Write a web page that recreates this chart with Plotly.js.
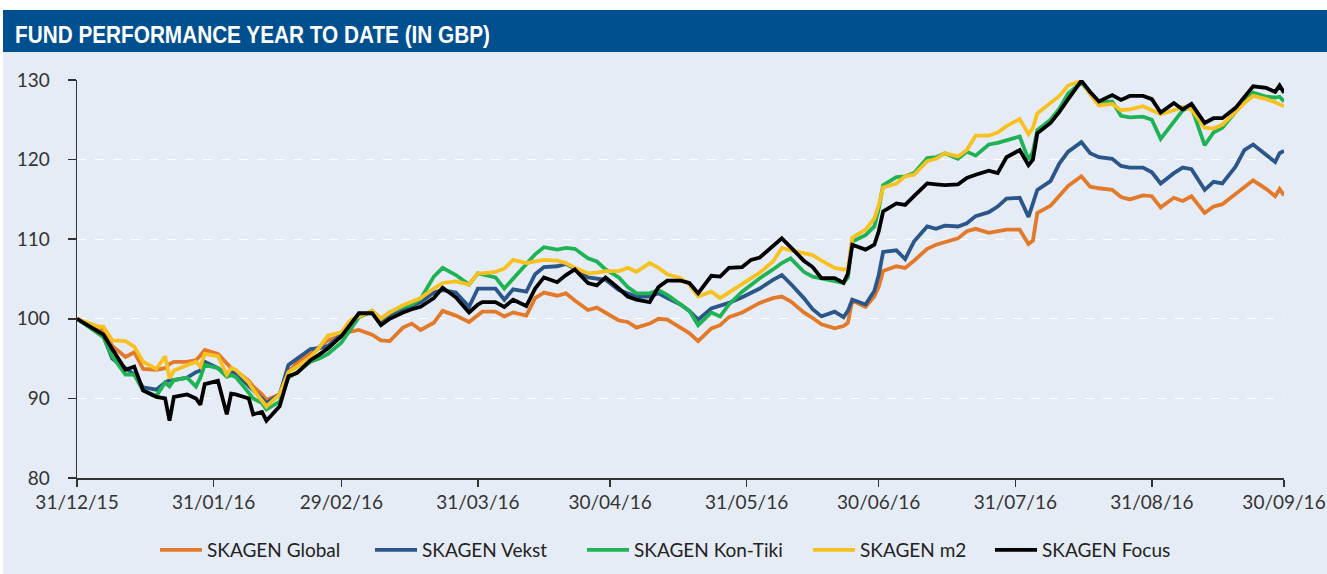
<!DOCTYPE html>
<html>
<head>
<meta charset="utf-8">
<script src="https://cdn.plot.ly/plotly-3.0.1.min.js"></script>
<style>
  html, body { margin: 0; padding: 0; background: #ffffff; width: 1327px; height: 574px; overflow: hidden; }
  #chart { position: absolute; left: 3px; top: 10px; width: 1324px; height: 564px; }
</style>
</head>
<body>
<div id="chart"></div>
<script>
const dates = [
  '2015-12-31','2016-01-05','2016-01-06','2016-01-08','2016-01-11','2016-01-13','2016-01-15','2016-01-18','2016-01-20','2016-01-21',
  '2016-01-22','2016-01-25','2016-01-27','2016-01-28','2016-01-29','2016-02-01','2016-02-03','2016-02-04','2016-02-05','2016-02-08',
  '2016-02-09','2016-02-11','2016-02-12','2016-02-15','2016-02-17','2016-02-19','2016-02-22','2016-02-24','2016-02-26','2016-02-29',
  '2016-03-02','2016-03-04','2016-03-07','2016-03-09','2016-03-11','2016-03-14','2016-03-16','2016-03-18','2016-03-21','2016-03-23',
  '2016-03-26','2016-03-29','2016-03-31','2016-04-01','2016-04-04','2016-04-06','2016-04-08','2016-04-11','2016-04-13','2016-04-15',
  '2016-04-18','2016-04-20','2016-04-22','2016-04-25','2016-04-27','2016-04-29','2016-05-02','2016-05-04','2016-05-06','2016-05-09',
  '2016-05-11','2016-05-13','2016-05-16','2016-05-18','2016-05-20','2016-05-23','2016-05-25','2016-05-27','2016-05-30','2016-06-01',
  '2016-06-03','2016-06-06','2016-06-08','2016-06-10','2016-06-13','2016-06-15','2016-06-17','2016-06-20','2016-06-22','2016-06-23',
  '2016-06-24','2016-06-27','2016-06-29','2016-06-30','2016-07-01','2016-07-04','2016-07-06','2016-07-08','2016-07-11','2016-07-13',
  '2016-07-15','2016-07-18','2016-07-20','2016-07-22','2016-07-25','2016-07-27','2016-07-29','2016-08-01','2016-08-03','2016-08-04',
  '2016-08-05','2016-08-08','2016-08-10','2016-08-12','2016-08-15','2016-08-17','2016-08-19','2016-08-22','2016-08-24','2016-08-26',
  '2016-08-29','2016-08-31','2016-09-02','2016-09-05','2016-09-07','2016-09-09','2016-09-12','2016-09-14','2016-09-16','2016-09-19',
  '2016-09-21','2016-09-23','2016-09-26','2016-09-28','2016-09-29','2016-09-30'
];

const skagenGlobal = [
  100, 98.8, 98.5, 96.6, 95.2, 95.8, 93.7, 93.6, 93.8, 94.3,
  94.6, 94.6, 94.8, 95.4, 96.1, 95.6, 94.4, 93.8, 93.5, 92.2,
  91.5, 90.5, 89.8, 90.5, 93.3, 94.5, 95.6, 96.4, 97.3, 97.9,
  98.4, 98.6, 98.0, 97.3, 97.2, 98.9, 99.4, 98.6, 99.5, 101.0,
  100.4, 99.6, 100.5, 100.9, 100.9, 100.3, 100.8, 100.4, 102.6, 103.3,
  102.9, 103.2, 102.3, 101.1, 101.4, 100.8, 99.8, 99.6, 98.9, 99.4,
  100.0, 99.9, 98.9, 98.2, 97.2, 98.8, 99.2, 100.2, 100.8, 101.4,
  102.0, 102.6, 102.8, 102.2, 100.8, 100.1, 99.3, 98.8, 99.1, 99.5,
  102.3, 101.5, 102.8, 104.0, 106.0, 106.6, 106.4, 107.3, 108.8, 109.3,
  109.6, 110.1, 111.0, 111.3, 110.8, 111.0, 111.2, 111.2, 109.4, 109.8,
  113.3, 114.2, 115.5, 116.7, 117.9, 116.6, 116.4, 116.2, 115.3, 115.0,
  115.5, 115.4, 114.0, 115.2, 114.8, 115.4, 113.3, 114.1, 114.4, 115.7,
  116.5, 117.4, 116.3, 115.4, 116.3, 115.5
];

const skagenVekst = [
  100, 98.3, 97.8, 95.0, 93.8, 93.0, 91.4, 91.1, 92.0, 92.3,
  92.3, 92.6, 93.3, 93.5, 94.6, 93.8, 93.0, 93.4, 93.2, 91.5,
  91.0, 90.0, 89.4, 90.5, 94.2, 95.0, 96.2, 96.3, 96.6, 98.0,
  99.2, 100.3, 100.9, 99.6, 100.5, 101.3, 101.6, 102.1, 103.3, 103.6,
  103.3, 101.5, 103.8, 103.8, 103.8, 102.4, 103.7, 103.4, 105.6, 106.5,
  106.6, 106.9, 106.3, 105.2, 105.1, 104.9, 103.6, 103.2, 102.8, 102.8,
  103.2, 102.6, 101.8, 101.0, 99.9, 101.3, 101.6, 102.0, 102.7, 103.2,
  103.8, 104.9, 105.5, 104.4, 102.6, 101.2, 100.3, 100.9, 100.2, 101.0,
  102.4, 101.8, 103.5, 105.5, 108.4, 108.6, 107.5, 109.7, 111.6, 111.3,
  111.7, 111.6, 112.0, 112.9, 113.4, 114.1, 115.1, 115.2, 112.8, 114.5,
  116.2, 117.3, 119.5, 121.0, 122.2, 120.8, 120.3, 120.1, 119.2, 119.0,
  119.0, 118.4, 117.0, 118.3, 119.0, 118.8, 116.2, 117.2, 117.0, 119.1,
  121.2, 121.9, 120.6, 119.7, 120.8, 121.1
];

const skagenKonTiki = [
  100, 98.2, 97.7, 95.3, 93.0, 93.0, 91.0, 90.3, 92.0, 91.5,
  92.3, 92.6, 91.5, 92.6, 94.2, 93.8, 92.7, 92.9, 92.7, 90.7,
  90.0, 89.4, 88.6, 89.6, 92.6, 93.3, 94.6, 95.0, 95.6, 97.0,
  98.6, 100.2, 101.0, 100.0, 100.8, 101.5, 101.8, 102.5, 105.3, 106.4,
  105.5, 104.3, 105.7, 105.6, 105.2, 103.8, 105.0, 106.9, 108.1, 109.0,
  108.7, 108.9, 108.8, 107.6, 107.2, 106.2, 105.2, 104.0, 103.2, 103.2,
  103.6, 103.0, 101.8, 101.0, 99.2, 100.8, 100.3, 101.8, 103.4, 104.3,
  105.1, 106.2, 107.0, 107.6, 105.9, 105.3, 105.1, 104.7, 104.5, 105.2,
  109.7, 110.5, 111.6, 113.8, 116.8, 117.8, 117.9, 118.3, 120.2, 120.3,
  120.8, 120.1, 121.0, 120.5, 121.9, 122.1, 122.4, 122.9, 120.0, 121.0,
  123.7, 125.0, 126.4, 128.3, 129.7, 128.3, 127.2, 127.3, 125.5, 125.3,
  125.4, 125.0, 122.6, 124.7, 126.2, 126.6, 121.8, 123.4, 124.0, 126.0,
  127.4, 128.4, 127.9, 127.8, 127.9, 127.3
];

const skagenM2 = [
  100, 99.0, 99.0, 97.3, 97.2, 96.5, 94.6, 93.7, 95.3, 92.5,
  93.5, 94.2, 94.6, 94.0, 95.6, 95.3, 93.0, 93.8, 93.6, 92.0,
  91.1, 89.7, 89.0, 90.5, 93.3, 94.0, 95.2, 96.4, 97.9, 98.3,
  99.8, 100.3, 101.0, 100.0, 100.8, 101.7, 102.2, 102.6, 103.8, 104.5,
  104.7, 104.3, 105.7, 105.7, 105.9, 106.3, 107.4, 107.0, 107.2, 107.4,
  107.3, 107.0, 106.4, 105.7, 105.8, 106.0, 106.0, 106.4, 105.9, 107.0,
  106.4, 105.6, 105.1, 104.3, 102.8, 103.4, 102.6, 103.3, 104.3, 105.1,
  105.8, 107.2, 108.9, 108.6, 108.2, 108.0, 107.3, 106.4, 106.2, 106.3,
  110.2, 111.2, 112.6, 114.3, 116.5, 117.0, 117.9, 118.1, 119.8, 120.1,
  120.8, 120.4, 121.2, 123.0, 123.0, 123.4, 124.2, 125.1, 123.2, 124.0,
  125.8, 127.1, 128.0, 129.3, 129.9, 128.2, 126.8, 127.0, 126.2, 126.3,
  126.7, 126.2, 125.7, 126.2, 126.6, 126.3, 124.0, 123.9, 124.4, 126.0,
  127.1, 128.0, 127.6, 127.2, 127.0, 126.7
];

const skagenFocus = [
  100, 98.4, 98.0, 96.2, 93.6, 94.0, 91.0, 90.2, 90.0, 87.2,
  90.2, 90.5, 90.0, 89.2, 91.8, 92.2, 88.0, 90.6, 90.5, 90.0,
  88.0, 88.3, 87.2, 89.0, 92.8, 93.2, 94.8, 95.5, 96.3, 97.8,
  99.3, 100.7, 100.7, 99.2, 100.0, 100.8, 101.2, 101.5, 102.6, 103.9,
  102.7, 100.8, 101.8, 102.1, 102.1, 101.5, 102.4, 101.6, 103.8, 105.2,
  104.6, 105.5, 106.2, 104.5, 104.2, 105.2, 103.8, 102.8, 102.4, 102.1,
  104.0, 104.8, 104.8, 104.5, 103.2, 105.4, 105.3, 106.4, 106.5, 107.4,
  107.7, 109.1, 110.1, 109.0, 107.3, 106.5, 105.1, 105.1, 104.5, 105.7,
  109.3, 108.7, 109.3, 111.0, 113.5, 114.5, 114.3, 115.4, 117.0, 116.9,
  116.8, 116.9, 117.7, 118.1, 118.6, 118.3, 120.3, 121.2, 119.3, 120.0,
  123.3, 124.6, 126.0, 127.6, 129.9, 128.5, 127.3, 128.1, 127.5, 128.0,
  128.0, 127.6, 125.9, 127.1, 126.3, 127.0, 124.6, 125.2, 125.2, 126.5,
  127.8, 129.2, 129.0, 128.5, 129.3, 128.4
];

const seriesNames = ['SKAGEN Global', 'SKAGEN Vekst', 'SKAGEN Kon-Tiki', 'SKAGEN m2', 'SKAGEN Focus'];
const seriesColors = ['#E27A2A', '#2B5689', '#1FB355', '#F7C221', '#000000'];
const seriesValues = [skagenGlobal, skagenVekst, skagenKonTiki, skagenM2, skagenFocus];

const xTickVals = ['2015-12-31','2016-01-31','2016-02-29','2016-03-31','2016-04-30','2016-05-31','2016-06-30','2016-07-31','2016-08-31','2016-09-30'];
const xTickText = ['31/12/15','31/01/16','29/02/16','31/03/16','30/04/16','31/05/16','30/06/16','31/07/16','31/08/16','30/09/16'];
const yTickVals = [80, 90, 100, 110, 120, 130];

const titleText = 'FUND PERFORMANCE YEAR TO DATE (IN GBP)';

// page x where each legend entry's text starts
const legendTextStart = [207, 422, 634, 860, 1042];

const W = 1324, H = 564;
const OX = 3, OY = 10;
const M = { l: 74, r: 43, t: 70, b: 96, autoexpand: false };
const pw = W - M.l - M.r, ph = H - M.t - M.b;
const ITEMW = 42;

const legendKeys = ['legend', 'legend2', 'legend3', 'legend4', 'legend5'];

const traces = seriesNames.map((name, i) => ({
  type: 'scatter',
  mode: 'lines',
  name: name,
  legend: legendKeys[i],
  x: dates,
  y: seriesValues[i],
  line: { color: seriesColors[i], width: 3.8 },
  hoverinfo: 'skip'
}));

const layout = {
  width: W, height: H,
  margin: M,
  paper_bgcolor: '#E6ECF5',
  plot_bgcolor: 'rgba(0,0,0,0)',
  showlegend: true,
  title: {
    text: titleText,
    xref: 'container', yref: 'container',
    x: 12 / W, xanchor: 'left',
    y: 1 - 25 / H, yanchor: 'middle',
    font: { family: 'Liberation Sans, Arial, sans-serif', size: 23, color: '#ffffff', weight: 'bold' }
  },
  shapes: [{
    type: 'rect', xref: 'paper', yref: 'paper', layer: 'below',
    x0: -M.l / pw, x1: (W - M.l) / pw,
    y0: 1 + (M.t - 42) / ph, y1: 1 + M.t / ph,
    fillcolor: '#00508F', line: { width: 0 }
  }],
  xaxis: {
    type: 'date',
    range: ['2015-12-31', '2016-09-30'],
    tickmode: 'array', tickvals: xTickVals, ticktext: xTickText,
    ticks: 'outside', ticklen: 7, tickwidth: 1.5, tickcolor: '#333333',
    showline: true, linecolor: '#333333', linewidth: 1.5,
    showgrid: false, zeroline: false,
    tickfont: { family: 'Lato, sans-serif', size: 19, color: '#333333' }
  },
  yaxis: {
    range: [80, 130],
    tickmode: 'array', tickvals: yTickVals,
    ticks: 'outside', ticklen: 8, tickwidth: 1.5, tickcolor: '#333333',
    ticklabelstandoff: 14,
    showline: true, linecolor: '#333333', linewidth: 1.5,
    showgrid: true, gridcolor: '#ffffff', gridwidth: 1.2, griddash: 'dash',
    zeroline: false,
    tickfont: { family: 'Lato, sans-serif', size: 19, color: '#333333' }
  }
};

legendKeys.forEach((k, i) => {
  const pageX = legendTextStart[i] - (ITEMW + 10);
  layout[k] = {
    orientation: 'h',
    itemwidth: ITEMW,
    x: (pageX - OX - M.l) / pw, xanchor: 'left',
    y: -(550 - OY - M.t - ph) / ph, yanchor: 'middle',
    font: { family: 'Lato, sans-serif', size: 19, color: '#222222' },
    bgcolor: 'rgba(0,0,0,0)', borderwidth: 0
  };
});

Plotly.newPlot('chart', traces, layout, { displayModeBar: false, staticPlot: true }).then(() => {
  const t = document.querySelector('#chart .gtitle');
  if (t) {
    t.setAttribute('textLength', '475');
    t.setAttribute('lengthAdjust', 'spacingAndGlyphs');
  }
});
</script>
</body>
</html>
